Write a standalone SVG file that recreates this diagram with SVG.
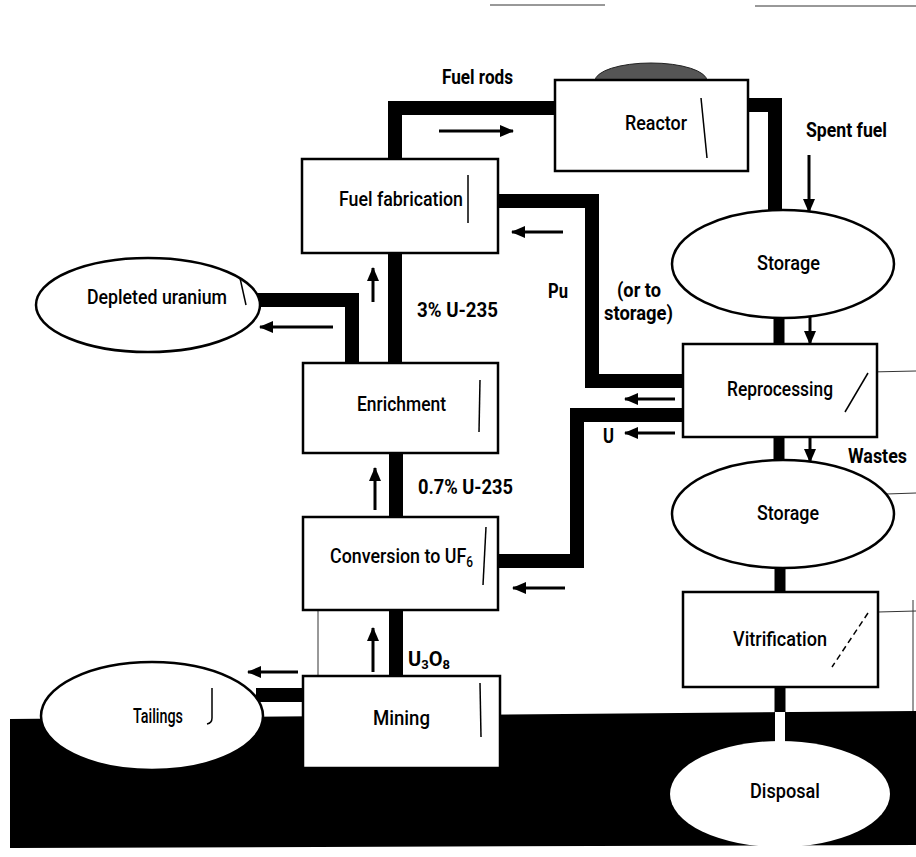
<svg xmlns="http://www.w3.org/2000/svg" width="916" height="857" viewBox="0 0 916 857">
<style>
.box{fill:#fff;stroke:#000;stroke-width:2.5}
.ell{fill:#fff;stroke:#000;stroke-width:2.5}
.pipe{fill:none;stroke:#000;stroke-width:14;stroke-linejoin:miter;stroke-linecap:butt}
.pipe2{fill:none;stroke:#000;stroke-width:11}
.arr{stroke:#000;stroke-width:3;fill:none;marker-end:url(#ah)}
.lbl{font-family:Roboto,"Liberation Sans",sans-serif;font-size:21px;font-weight:500;fill:#000}
.bl{font-family:Roboto,"Liberation Sans",sans-serif;font-size:20px;font-weight:bold;fill:#000}
.mark{stroke:#000;stroke-width:1.5;fill:none}
.thin{stroke:#333;stroke-width:1;fill:none}
</style>
<defs>
<marker id="ah" viewBox="0 0 14 12" refX="13" refY="6" markerWidth="14" markerHeight="12" markerUnits="userSpaceOnUse" orient="auto">
<path d="M0 0 L14 6 L0 12 Z" fill="#000"/>
</marker>
</defs>

<g id="artifacts">
<line class="thin" x1="490" y1="5" x2="605" y2="5"/>
<line class="thin" x1="755" y1="6" x2="916" y2="6"/>
<line class="thin" x1="318" y1="588" x2="318" y2="690"/>
<line class="thin" x1="870" y1="372" x2="916" y2="371"/>
<path class="thin" d="M832 530 L857 495 L916 493"/>
<line class="thin" x1="878" y1="612" x2="916" y2="611"/>
<line class="thin" x1="913" y1="600" x2="913" y2="712"/>
</g>

<polygon id="ground" points="10,719 916,711 916,845 10,848" fill="#000"/>

<g id="connectors">
<path class="pipe" d="M395 160 V108 H556"/>
<path class="pipe" d="M747 105 H775 V212"/>
<path class="pipe" d="M497 201 H592 V381 H684"/>
<path class="pipe" d="M497 561 H577 V415 H684"/>
<path class="pipe" d="M257 300 H352 V364"/>
<path class="pipe" d="M395 252 V364"/>
<path class="pipe" d="M396 452 V518"/>
<path class="pipe" d="M396 609 V677"/>
<path class="pipe" d="M256 695 H304"/>
<path class="pipe2" d="M779 314 V345"/>
<path class="pipe2" d="M779 436 V462"/>
<path class="pipe2" d="M780 565 V593"/>
<path class="pipe2" d="M780 686 V716"/>
<rect x="775" y="712" width="10" height="34" fill="#fff"/>
<line class="arr" x1="439" y1="131" x2="513" y2="131"/>
<line class="arr" x1="563" y1="232" x2="512" y2="232"/>
<line class="arr" x1="333" y1="327" x2="260" y2="327"/>
<line class="arr" x1="373" y1="302" x2="373" y2="268"/>
<line class="arr" x1="375" y1="510" x2="375" y2="468"/>
<line class="arr" x1="373" y1="672" x2="373" y2="628"/>
<line class="arr" x1="298" y1="672" x2="248" y2="672"/>
<line class="arr" x1="565" y1="588" x2="513" y2="588"/>
<line class="arr" x1="675" y1="399" x2="625" y2="399"/>
<line class="arr" x1="675" y1="433" x2="625" y2="433"/>
<line class="arr" x1="809" y1="155" x2="809" y2="212"/>
<line class="arr" x1="810" y1="298" x2="810" y2="344"/>
<line class="arr" x1="810" y1="413" x2="810" y2="462"/>
<text class="bl" x="442" y="84" textLength="71" lengthAdjust="spacingAndGlyphs">Fuel rods</text>
<text class="bl" x="806" y="137" textLength="81" lengthAdjust="spacingAndGlyphs">Spent fuel</text>
<text class="bl" x="417" y="317" textLength="81" lengthAdjust="spacingAndGlyphs">3% U-235</text>
<text class="bl" x="548" y="298" textLength="20" lengthAdjust="spacingAndGlyphs">Pu</text>
<text class="bl" x="617" y="297" textLength="44" lengthAdjust="spacingAndGlyphs">(or to</text>
<text class="bl" x="604" y="320" textLength="69" lengthAdjust="spacingAndGlyphs">storage)</text>
<text class="bl" x="418" y="494" textLength="95" lengthAdjust="spacingAndGlyphs">0.7% U-235</text>
<text class="bl" x="603" y="443" textLength="11" lengthAdjust="spacingAndGlyphs">U</text>
<text class="bl" x="408" y="666">U<tspan font-size="13" dy="3">3</tspan><tspan dy="-3">O</tspan><tspan font-size="13" dy="3">8</tspan></text>
<text class="bl" x="848" y="463" textLength="59" lengthAdjust="spacingAndGlyphs">Wastes</text>
</g>

<g id="reactor">
<ellipse cx="651" cy="81" rx="56" ry="18" fill="#555" stroke="#222" stroke-width="1"/>
<rect class="box" x="555" y="80" width="193" height="91"/>
<text class="lbl" x="625" y="130" textLength="62" lengthAdjust="spacingAndGlyphs">Reactor</text>
<line class="mark" x1="701" y1="98" x2="707" y2="158"/>
</g>

<g id="fuel-fabrication">
<rect class="box" x="302" y="159" width="196" height="94"/>
<text class="lbl" x="339" y="206" textLength="124" lengthAdjust="spacingAndGlyphs">Fuel fabrication</text>
<line class="mark" x1="468" y1="175" x2="468" y2="223"/>
</g>

<g id="depleted-uranium">
<ellipse class="ell" cx="148" cy="305" rx="112" ry="47"/>
<text class="lbl" x="87" y="304" textLength="140" lengthAdjust="spacingAndGlyphs">Depleted uranium</text>
<line class="mark" x1="240" y1="278" x2="246" y2="305"/>
</g>

<g id="enrichment">
<rect class="box" x="303" y="363" width="195" height="90"/>
<text class="lbl" x="357" y="411" textLength="89" lengthAdjust="spacingAndGlyphs">Enrichment</text>
<line class="mark" x1="480" y1="380" x2="479" y2="432"/>
</g>

<g id="conversion">
<rect class="box" x="303" y="517" width="195" height="93"/>
<text class="lbl" x="330" y="563" textLength="143" lengthAdjust="spacingAndGlyphs">Conversion to UF<tspan font-size="14" dy="4">6</tspan></text>
<line class="mark" x1="486" y1="527" x2="483" y2="585"/>
</g>

<g id="storage-1">
<ellipse class="ell" cx="783" cy="264" rx="111" ry="54"/>
<text class="lbl" x="757" y="270" textLength="63" lengthAdjust="spacingAndGlyphs">Storage</text>
</g>

<g id="reprocessing">
<rect class="box" x="683" y="344" width="194" height="93"/>
<text class="lbl" x="727" y="396" textLength="106" lengthAdjust="spacingAndGlyphs">Reprocessing</text>
<line class="mark" x1="868" y1="373" x2="845" y2="412"/>
</g>

<g id="storage-2">
<ellipse class="ell" cx="783" cy="514" rx="111" ry="54"/>
<text class="lbl" x="757" y="520" textLength="62" lengthAdjust="spacingAndGlyphs">Storage</text>
</g>

<g id="vitrification">
<rect class="box" x="683" y="592" width="195" height="95"/>
<text class="lbl" x="733" y="646" textLength="94" lengthAdjust="spacingAndGlyphs">Vitrification</text>
<line class="mark" x1="868" y1="613" x2="832" y2="667" stroke-dasharray="6 4"/>
</g>

<g id="tailings">
<ellipse class="ell" cx="152" cy="716" rx="111" ry="54"/>
<text class="lbl" x="133" y="723" textLength="50" lengthAdjust="spacingAndGlyphs">Tailings</text>
<path class="mark" d="M212 688 V718 Q212 723 207 724"/>
</g>

<g id="mining">
<rect class="box" x="303" y="676" width="197" height="92"/>
<text class="lbl" x="373" y="725" textLength="57" lengthAdjust="spacingAndGlyphs">Mining</text>
<line class="mark" x1="480" y1="683" x2="481" y2="737"/>
</g>

<g id="disposal">
<ellipse cx="780" cy="794" rx="110" ry="53" fill="#fff"/>
<text class="lbl" x="750" y="798" textLength="70" lengthAdjust="spacingAndGlyphs">Disposal</text>
</g>
</svg>
